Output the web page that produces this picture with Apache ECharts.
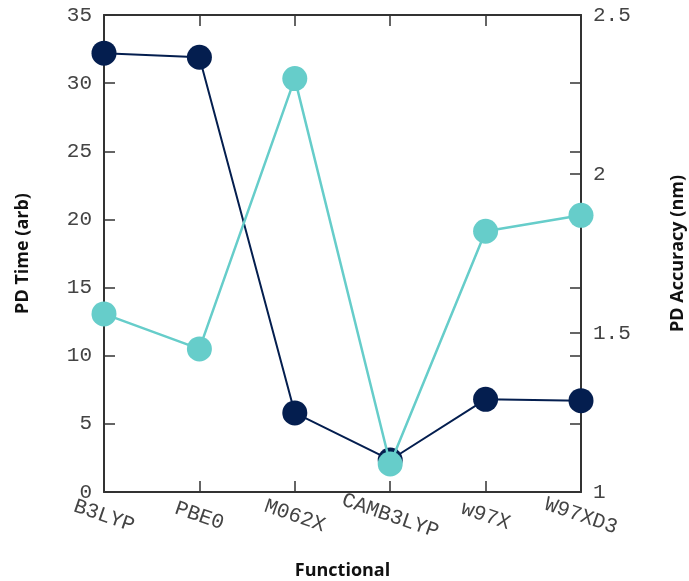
<!DOCTYPE html>
<html><head><meta charset="utf-8">
<script src="https://cdn.jsdelivr.net/npm/echarts@6/dist/echarts.min.js"></script>
<style>html,body{margin:0;padding:0;background:#fff}#c{width:689px;height:581px}</style>
</head><body><div id="c"></div>
<script>
const categories = ['B3LYP','PBE0','M062X','CAMB3LYP','w97X','W97XD3'];
const pdTime = [32.2, 31.9, 5.8, 2.35, 6.8, 6.7];
const pdAccuracy = [1.56, 1.45, 2.30, 1.088, 1.82, 1.87];
const leftTicks = {min: 0, max: 35, interval: 5};
const rightTicks = {min: 1, max: 2.5, interval: 0.5};

const axisColor = '#333';
const labelFont = {fontFamily: 'Liberation Mono', fontSize: 21, color: '#444'};
const nameFont = {fontFamily: 'Open Sans', fontWeight: 'bold', fontSize: 18, color: '#111'};
const lineOpt = (show) => ({show: show, onZero: false, lineStyle: {color: axisColor, width: 2}});
const tickOpt = {show: true, inside: true, length: 11, lineStyle: {color: axisColor, width: 1.5}};
const chart = echarts.init(document.getElementById('c'), null, {renderer: 'canvas'});
chart.setOption({
  animation: false,
  grid: {left: 104, right: 108, top: 15, bottom: 89, containLabel: false, outerBoundsMode: 'none'},
  xAxis: [{
    type: 'category', data: categories, boundaryGap: false, position: 'bottom',
    axisLine: lineOpt(true), axisTick: tickOpt,
    axisLabel: Object.assign({rotate: -19, margin: 24, align: 'center', verticalAlign: 'middle', interval: 0}, labelFont),
    name: 'Functional', nameLocation: 'middle', nameGap: 70,
    nameTextStyle: nameFont,
    splitLine: {show: false}
  }, {
    type: 'category', data: categories, boundaryGap: false, position: 'top',
    axisLine: lineOpt(true), axisTick: tickOpt,
    axisLabel: {show: false}, splitLine: {show: false}
  }],
  yAxis: [{
    type: 'value', position: 'left', min: leftTicks.min, max: leftTicks.max, interval: leftTicks.interval,
    axisLine: lineOpt(true), axisTick: tickOpt,
    axisLabel: Object.assign({margin: 12}, labelFont),
    splitLine: {show: false},
    name: 'PD Time (arb)', nameLocation: 'middle', nameGap: 72, nameRotate: 90,
    nameTextStyle: nameFont
  }, {
    type: 'value', position: 'right', min: rightTicks.min, max: rightTicks.max, interval: rightTicks.interval,
    axisLine: lineOpt(true), axisTick: tickOpt,
    axisLabel: Object.assign({margin: 12}, labelFont),
    splitLine: {show: false},
    name: 'PD Accuracy (nm)', nameLocation: 'middle', nameGap: 88, nameRotate: 90,
    nameTextStyle: nameFont
  }, {
    type: 'value', position: 'right', offset: 0, min: leftTicks.min, max: leftTicks.max, interval: leftTicks.interval,
    axisLine: lineOpt(false), axisTick: tickOpt,
    axisLabel: {show: false}, splitLine: {show: false}
  }],
  series: [{
    type: 'line', data: pdTime, yAxisIndex: 0, xAxisIndex: 0,
    symbol: 'circle', symbolSize: 25,
    lineStyle: {color: '#041E4F', width: 2},
    itemStyle: {color: '#041E4F'}, z: 3
  }, {
    type: 'line', data: pdAccuracy, yAxisIndex: 1, xAxisIndex: 0,
    symbol: 'circle', symbolSize: 25,
    lineStyle: {color: '#66CDCA', width: 2.5},
    itemStyle: {color: '#66CDCA'}, z: 4
  }]
});
</script></body></html>
